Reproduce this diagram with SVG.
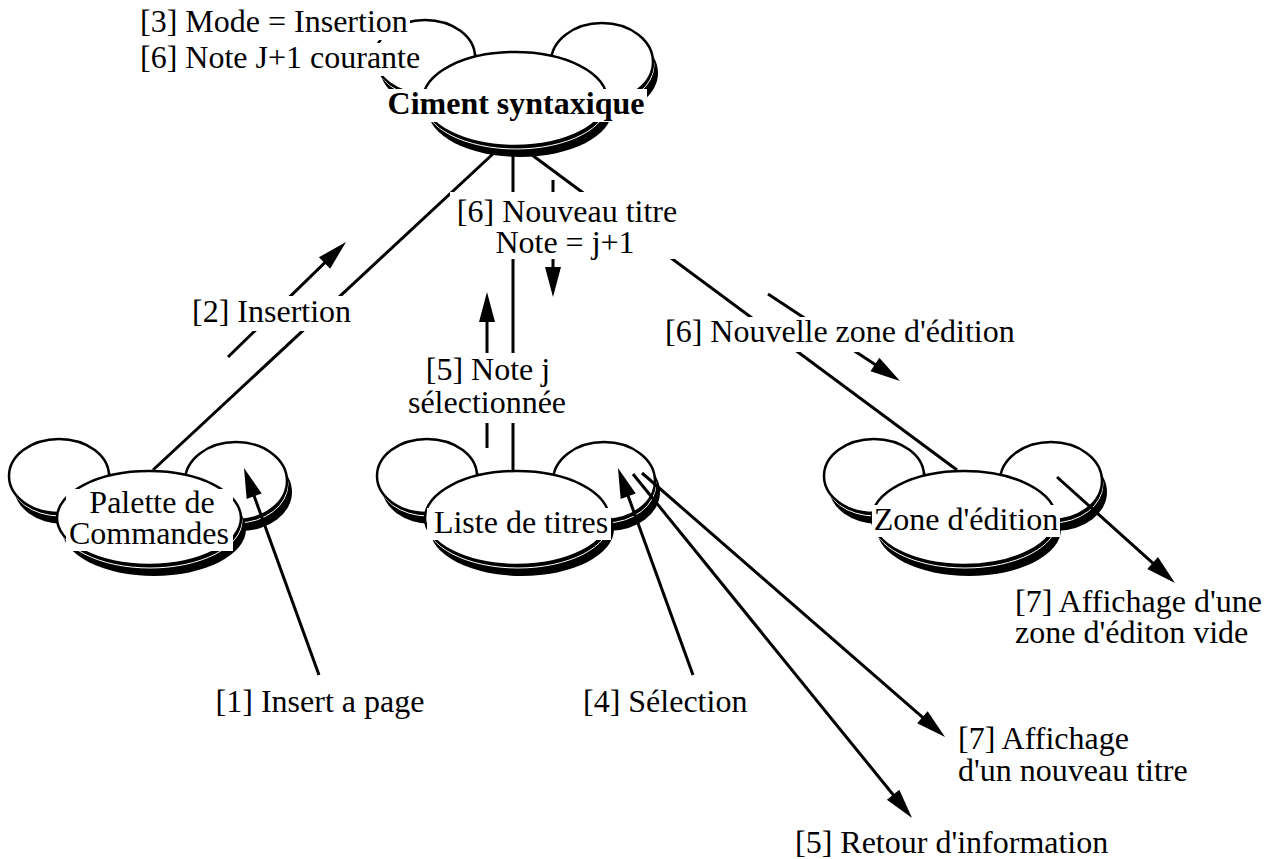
<svg xmlns="http://www.w3.org/2000/svg" xmlns:xlink="http://www.w3.org/1999/xlink" width="1277" height="859" viewBox="0 0 1277 859">
<style>
 .t{font-family:"Liberation Serif","Times New Roman",serif;font-size:32px;fill:#000}
 .m{text-anchor:middle}
 .b{font-weight:bold}
 .bg{fill:#fff;stroke:none}
 .ol{fill:#fff;stroke:#000;stroke-width:2.5}
 .sh{fill:#000;stroke:none}
 .hl{fill:none;stroke:#fff;stroke-width:1}
 .ln{stroke:#000;stroke-width:3;fill:none;stroke-linecap:butt}
 .ar{stroke:#000;stroke-width:3;fill:none;stroke-linecap:butt;marker-end:url(#ah)}
</style>
<defs>
 <marker id="ah" markerUnits="userSpaceOnUse" markerWidth="30" markerHeight="16" refX="22" refY="8" orient="auto" overflow="visible">
  <path d="M0,0 L30,8 L0,16 Z" fill="#000"/>
 </marker>
 <g id="mouse">
  <ellipse class="sh" cx="-85" cy="-31" rx="50" ry="37"/>
  <ellipse class="hl" cx="-89" cy="-39" rx="50" ry="37"/>
  <ellipse class="ol" cx="-90" cy="-42" rx="50" ry="37"/>
  <ellipse class="sh" cx="92" cy="-26" rx="51" ry="39"/>
  <ellipse class="hl" cx="88" cy="-34" rx="51" ry="39"/>
  <ellipse class="ol" cx="87" cy="-37" rx="51" ry="39"/>
  <ellipse class="sh" cx="5" cy="11" rx="92" ry="47"/>
  <ellipse class="hl" cx="1" cy="3" rx="92" ry="47"/>
  <ellipse class="ol" cx="0" cy="0" rx="92" ry="47"/>
 </g>
</defs>
<rect width="1277" height="859" fill="#fff"/>

<g id="node-ciment">
 <use xlink:href="#mouse" href="#mouse" x="515" y="99"/>
 <rect class="bg" x="386" y="89" width="261" height="33"/>
 <text class="t m b" x="516" y="114">Ciment syntaxique</text>
</g>
<g id="node-palette">
 <use xlink:href="#mouse" href="#mouse" x="149" y="518"/>
 <rect class="bg" x="66" y="489" width="167" height="62"/>
 <text class="t m" x="152" y="513">Palette de</text>
 <text class="t m" x="149" y="544">Commandes</text>
</g>
<g id="node-liste">
 <use xlink:href="#mouse" href="#mouse" x="517" y="518"/>
 <rect class="bg" x="427" y="508" width="184" height="32"/>
 <text class="t m" x="521" y="533">Liste de titres</text>
</g>
<g id="node-zone">
 <use xlink:href="#mouse" href="#mouse" x="964" y="518"/>
 <rect class="bg" x="872" y="505" width="188" height="32"/>
 <text class="t m" x="966" y="530">Zone d'édition</text>
</g>

<g id="connectors">
 <line class="ln" x1="495" y1="152" x2="153" y2="470"/>
 <line class="ln" x1="513" y1="152" x2="513" y2="470"/>
 <line class="ln" x1="528" y1="152" x2="957" y2="470"/>
 <line class="ar" x1="228" y1="357" x2="340.3" y2="247.6"/>
 <line class="ar" x1="553" y1="180" x2="553" y2="289"/>
 <line class="ar" x1="487" y1="448" x2="487" y2="300"/>
 <line class="ar" x1="768" y1="294" x2="893.3" y2="376.6"/>
 <line class="ar" x1="319" y1="675" x2="246.7" y2="475.5"/>
 <line class="ar" x1="693" y1="675" x2="620.7" y2="475.5"/>
 <line class="ar" x1="633" y1="474" x2="907" y2="811.8"/>
 <line class="ar" x1="642" y1="473" x2="939" y2="731.7"/>
 <line class="ar" x1="1057" y1="477" x2="1169" y2="577.7"/>
</g>

<g id="labels">
 <rect class="bg" x="138" y="7" width="272" height="33"/>
 <text class="t" x="140" y="32">[3] Mode = Insertion</text>
 <rect class="bg" x="138" y="43" width="284" height="33"/>
 <text class="t" x="140" y="68">[6] Note J+1 courante</text>

 <rect class="bg" x="450" y="192" width="231" height="67"/>
 <text class="t m" x="567" y="222">[6] Nouveau titre</text>
 <text class="t m" x="565" y="253">Note = j+1</text>

 <rect class="bg" x="190" y="296" width="163" height="35"/>
 <text class="t" x="192" y="322">[2] Insertion</text>

 <rect class="bg" x="405" y="353" width="164" height="70"/>
 <text class="t m" x="488" y="380">[5] Note j</text>
 <text class="t m" x="487" y="413">sélectionnée</text>

 <rect class="bg" x="662" y="317" width="356" height="35"/>
 <text class="t" x="665" y="342">[6] Nouvelle zone d'édition</text>

 <text class="t m" x="320" y="712">[1] Insert a page</text>
 <text class="t" x="583" y="712">[4] Sélection</text>
 <text class="t" x="958" y="749">[7] Affichage</text>
 <text class="t" x="958" y="781">d'un nouveau titre</text>
 <text class="t" x="795" y="853">[5] Retour d'information</text>
 <text class="t" x="1015" y="612">[7] Affichage d'une</text>
 <text class="t" x="1015" y="643">zone d'éditon vide</text>
</g>
</svg>
